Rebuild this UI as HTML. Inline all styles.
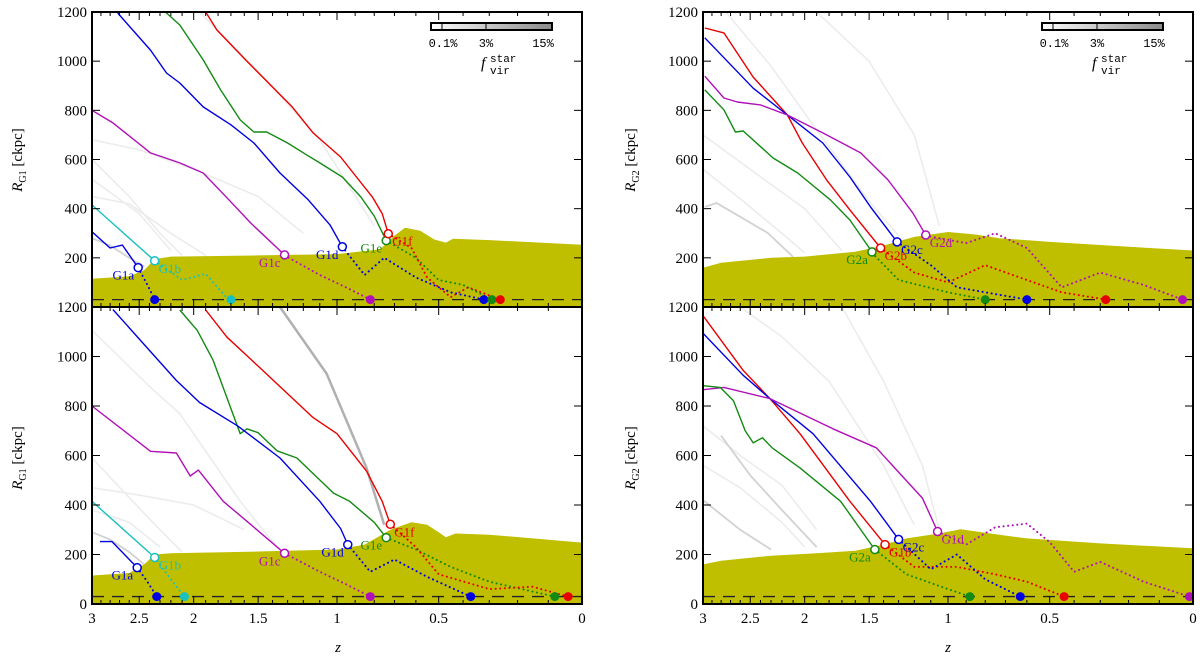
<!DOCTYPE html>
<html><head><meta charset="utf-8"><title>R_G1 and R_G2 vs redshift z</title>
<style>
html,body{margin:0;padding:0;background:#fff;}
svg{display:block;font-family:"Liberation Serif","DejaVu Serif",serif;}
</style></head>
<body>
<svg id="chart" width="1200" height="661" viewBox="0 0 1200 661" xmlns="http://www.w3.org/2000/svg">
<defs>
<linearGradient id="cbgrad" x1="0" x2="1" y1="0" y2="0"><stop offset="0" stop-color="#ffffff"/><stop offset="1" stop-color="#8a8a8a"/></linearGradient>
</defs>
<g id="root"></g>
<text x="22" y="160" font-size="15" text-anchor="middle" transform="rotate(-90 22 160)"><tspan font-style="italic">R</tspan><tspan font-size="10" dy="4">G1</tspan><tspan dy="-4"> [ckpc]</tspan></text>
<text x="22" y="458" font-size="15" text-anchor="middle" transform="rotate(-90 22 458)"><tspan font-style="italic">R</tspan><tspan font-size="10" dy="4">G1</tspan><tspan dy="-4"> [ckpc]</tspan></text>
<text x="635" y="160" font-size="15" text-anchor="middle" transform="rotate(-90 635 160)"><tspan font-style="italic">R</tspan><tspan font-size="10" dy="4">G2</tspan><tspan dy="-4"> [ckpc]</tspan></text>
<text x="635" y="458" font-size="15" text-anchor="middle" transform="rotate(-90 635 458)"><tspan font-style="italic">R</tspan><tspan font-size="10" dy="4">G2</tspan><tspan dy="-4"> [ckpc]</tspan></text>
<text x="338" y="652" font-size="15" font-style="italic" text-anchor="middle">z</text>
<text x="948" y="652" font-size="15" font-style="italic" text-anchor="middle">z</text>
</svg>
<script>
// ---------- data ----------
const yTicks = [0,200,400,600,800,1000,1200];
const xMajor = [3,2.5,2,1.5,1,0.5,0];
const xMajorLabels = ["3","2.5","2","1.5","1","0.5","0"];
const floorR = 30;

// top-left (G1)
const tlOlive = [[3,115],[2.6,125],[2.45,150],[2.35,195],[2.2,205],[1.5,210],[1.0,215],[0.77,235],[0.70,290],[0.65,322],[0.58,310],[0.52,275],[0.47,262],[0.44,278],[0.3,272],[0,253]];
const tlRed = [[1.90,1200],[1.81,1127],[1.59,1005],[1.27,814],[1.14,708],[0.98,610],[0.81,448],[0.76,380],[0.73,298]];
const tlGreen = [[2.25,1200],[2.12,1147],[1.92,1005],[1.78,883],[1.63,761],[1.53,712],[1.44,712],[1.30,667],[1.18,619],[1.10,586],[0.97,529],[0.87,448],[0.80,370],[0.74,270]];
const tlBlue = [[2.72,1196],[2.39,1045],[2.24,952],[2.12,911],[1.92,814],[1.70,741],[1.53,667],[1.35,545],[1.17,436],[1.04,334],[0.97,245]];
const tlMagenta = [[3,800],[2.77,749],[2.39,627],[2.12,586],[1.92,545],[1.73,444],[1.55,340],[1.32,212]];
const tlCyan = [[3,415],[2.35,188]];
const tlBlueA = [[3,306],[2.80,240],[2.67,252],[2.51,160]];
const tlGrey = [[[3,600],[2.6,450],[2.3,300],[2.1,210]],[[3,520],[2.5,380],[2.2,230]],[[3,680],[2.5,640],[2,560],[1.5,450],[1.2,300]],[[1.95,1200],[1.5,960],[1.1,680],[0.8,330]],[[3,450],[2.6,420],[2.2,300],[1.9,210]]];
const tlGreyDark = [[[3,280],[2.8,250],[2.6,200],[2.45,165]]];
const tlDots = [["blue",[[2.51,160],[2.42,90],[2.35,30]]],["cyan",[[2.35,188],[2.1,110],[1.9,135],[1.72,30]]],["magenta",[[1.32,210],[1.1,130],[0.95,80],[0.82,30]]],["blue",[[0.97,245],[0.85,130],[0.75,200],[0.6,120],[0.45,60],[0.32,30]]],["green",[[0.74,270],[0.6,200],[0.5,110],[0.4,90],[0.29,30]]],["red",[[0.73,298],[0.62,240],[0.55,120],[0.45,40],[0.38,80],[0.26,30]]]];
const tlEnds = [["blue",2.35],["cyan",1.70],["magenta",0.82],["blue",0.32],["green",0.29],["red",0.26]];
const tlLabels = [["G1a","blue",2.51,160,-1],["G1b","cyan",2.35,188,1],["G1c","magenta",1.32,212,-1],["G1d","blue",0.97,245,-1],["G1e","green",0.74,270,-1],["G1f","red",0.73,298,1]];

// top-right (G2)
const trOlive = [[3,160],[2.8,180],[2.3,200],[2.0,205],[1.6,225],[1.4,250],[1.2,285],[1.0,305],[0.85,295],[0.73,280],[0.5,265],[0.2,245],[0,230]];
const trRed = [[2.98,1135],[2.77,1115],[2.47,935],[2.15,781],[2.02,667],[1.82,517],[1.64,395],[1.42,240]];
const trBlue = [[2.98,1095],[2.47,890],[2.15,781],[1.85,667],[1.64,529],[1.49,407],[1.31,265]];
const trMagenta = [[2.98,939],[2.77,850],[2.63,834],[2.40,822],[2.15,781],[1.85,708],[1.56,627],[1.37,517],[1.21,383],[1.13,293]];
const trGreen = [[2.98,883],[2.77,802],[2.65,712],[2.57,716],[2.28,606],[2.06,545],[1.79,436],[1.64,354],[1.48,224]];
const trGrey = [[[2.75,1200],[2.3,980],[1.9,720],[1.5,430],[1.3,290]],[[1.9,1200],[1.5,1000],[1.2,700],[1.05,330]],[[3,700],[2.5,560],[2,400],[1.7,230]],[[3,560],[2.6,440],[2.2,300],[2.0,220]]];
const trGreyDark = [[[2.98,407],[2.85,423],[2.67,383],[2.33,301],[2.10,204]]];
const trDots = [["green",[[1.48,220],[1.3,110],[1.0,60],[0.8,30]]],["red",[[1.42,240],[1.2,140],[1.0,100],[0.8,170],[0.6,110],[0.45,60],[0.28,30]]],["blue",[[1.31,265],[1.1,170],[0.95,80],[0.8,60],[0.6,30]]],["magenta",[[1.13,290],[0.9,260],[0.75,300],[0.6,240],[0.45,80],[0.3,140],[0.15,90],[0.03,30]]]];
const trEnds = [["green",0.80],["blue",0.60],["red",0.28],["magenta",0.03]];
const trLabels = [["G2a","green",1.48,224,-1],["G2b","red",1.42,240,1],["G2c","blue",1.31,265,1],["G2d","magenta",1.13,293,1]];

// bottom-left (G1)
const blOlive = [[3,115],[2.6,125],[2.45,160],[2.35,200],[2.2,205],[1.5,212],[1.0,220],[0.85,240],[0.72,300],[0.62,330],[0.55,320],[0.5,290],[0.47,270],[0.43,285],[0.3,280],[0,248]];
const blRed = [[1.90,1188],[1.73,1078],[1.49,956],[1.14,753],[1.00,688],[0.84,537],[0.76,415],[0.72,322]];
const blGreen = [[2.12,1188],[1.97,1106],[1.84,985],[1.63,688],[1.58,708],[1.50,692],[1.37,619],[1.24,590],[1.02,448],[0.93,415],[0.80,330],[0.74,268]];
const blBlue = [[2.77,1190],[2.15,903],[1.95,814],[1.65,720],[1.35,590],[1.10,415],[0.98,305],[0.94,240]];
const blMagenta = [[3,800],[2.39,617],[2.15,610],[2.03,517],[1.96,541],[1.76,415],[1.55,320],[1.32,205]];
const blCyan = [[3,415],[2.35,188]];
const blBlueA = [[2.91,252],[2.78,252],[2.52,147]];
const blGrey = [[[3,1106],[2.39,875],[2.12,769],[1.63,415],[1.4,250]],[[3,590],[2.6,430],[2.3,300],[2.1,210]],[[3,470],[2.5,440],[2,400],[1.6,300]],[[3,380],[2.6,330],[2.3,230]]];
const blGreyDark = [[[3,290],[2.8,260],[2.6,210],[2.45,160]]];
const blGreyThick = [[1.35,1200],[1.06,931],[0.84,550],[0.75,320]];
const blDots = [["blue",[[2.52,147],[2.42,90],[2.33,30]]],["cyan",[[2.35,188],[2.2,100],[2.08,30]]],["magenta",[[1.32,205],[1.1,130],[0.95,80],[0.82,30]]],["blue",[[0.94,240],[0.82,130],[0.7,180],[0.55,110],[0.37,30]]],["green",[[0.74,268],[0.6,220],[0.45,150],[0.3,90],[0.08,30]]],["red",[[0.72,322],[0.6,230],[0.5,120],[0.3,60],[0.15,70],[0.04,30]]]];
const blEnds = [["blue",2.33],["cyan",2.08],["magenta",0.82],["blue",0.37],["green",0.08],["red",0.04]];
const blLabels = [["G1a","blue",2.52,147,-1],["G1b","cyan",2.35,188,1],["G1c","magenta",1.32,205,-1],["G1d","blue",0.94,240,-1],["G1e","green",0.74,268,-1],["G1f","red",0.72,322,1]];

// bottom-right (G2)
const brOlive = [[3,160],[2.8,175],[2.3,195],[1.9,205],[1.6,215],[1.4,240],[1.25,265],[1.05,285],[0.93,302],[0.73,280],[0.6,265],[0.3,245],[0,225]];
const brRed = [[3,1165],[2.57,944],[2.31,830],[2.04,688],[1.64,415],[1.39,240]];
const brBlue = [[3,1094],[2.57,924],[2.31,830],[1.93,688],[1.49,415],[1.30,261]];
const brMagenta = [[3,866],[2.77,875],[2.31,830],[1.77,708],[1.45,631],[1.15,428],[1.06,293]];
const brGreen = [[3,882],[2.81,875],[2.67,822],[2.55,700],[2.47,651],[2.38,672],[2.29,631],[2.04,550],[1.71,415],[1.46,220]];
const brGrey = [[[2.6,1200],[2.2,1080],[1.8,900],[1.4,560],[1.2,320]],[[3,720],[2.6,600],[2.2,480],[1.9,300]],[[3,560],[2.6,470],[2.2,330],[2.0,230]],[[1.7,1200],[1.4,900],[1.15,560],[1.05,300]]];
const brGreyDark = [[[2.8,680],[2.5,520],[2.2,380],[1.9,230]],[[3,420],[2.6,300],[2.3,220]]];
const brDots = [["green",[[1.46,220],[1.25,120],[1.0,60],[0.88,30]]],["red",[[1.39,240],[1.2,150],[0.95,150],[0.75,120],[0.6,90],[0.44,30]]],["blue",[[1.30,261],[1.1,140],[0.95,200],[0.8,100],[0.63,30]]],["magenta",[[1.06,293],[0.9,240],[0.75,310],[0.6,325],[0.5,250],[0.4,130],[0.3,170],[0.15,90],[0.01,30]]]];
const brEnds = [["green",0.88],["blue",0.63],["red",0.44],["magenta",0.01]];
const brLabels = [["G2a","green",1.46,220,-1],["G1b","red",1.39,240,1],["G2c","blue",1.30,261,1],["G1d","magenta",1.06,293,1]];

// ---------- rendering ----------
const COL = {red:"#e80000",green:"#138a13",blue:"#0000e0",magenta:"#b010b8",cyan:"#18c0c0"};
const NS = "http://www.w3.org/2000/svg";
const root = document.getElementById('root');
const W = 490, L4 = Math.log10(4);
function mk(tag, attrs, parent){ const e=document.createElementNS(NS,tag); for(const k in attrs) e.setAttribute(k,attrs[k]); (parent||root).appendChild(e); return e; }

function panel(id, x0, ytop, h, d){
  const sx = z => x0 + (L4 - Math.log10(1+z))/L4*W;
  const sy = r => ytop + (1200 - r)/1200*h;
  const pts = arr => arr.map(p => sx(p[0]).toFixed(1)+','+sy(p[1]).toFixed(1)).join(' ');
  const g = mk('g',{});
  
  
  const cp = mk('clipPath',{id:'clip-'+id}, g);
  mk('rect',{x:x0,y:ytop,width:W,height:h},cp);
  const inner = mk('g',{'clip-path':'url(#clip-'+id+')'}, g);
  const ol = d.olive;
  const oliveEl = mk('polygon',{points: pts(ol)+' '+sx(0)+','+sy(-50)+' '+sx(3)+','+sy(-50), fill:'#bfbf00'}, inner);
  
  
  d.grey.forEach(a => { const e=mk('polyline',{points:pts(a),fill:'none',stroke:'#ececec','stroke-width':1.6}, inner);
      });
  d.greyDark.forEach(a => { const e=mk('polyline',{points:pts(a),fill:'none',stroke:'#d2d2d2','stroke-width':1.8}, inner);
      });
  if(d.greyThick){ const e=mk('polyline',{points:pts(d.greyThick),fill:'none',stroke:'#b0b0b0','stroke-width':2.5}, inner);
      }
  d.dots.forEach(([c,a]) => { const e=mk('polyline',{points:pts(a),fill:'none',stroke:COL[c],'stroke-width':2,'stroke-dasharray':'0.1 4.5','stroke-linecap':'round'}, inner);
      });
  const fl = mk('line',{x1:x0,x2:x0+W,y1:sy(floorR),y2:sy(floorR),stroke:'#222','stroke-width':1.3,'stroke-dasharray':'12 8'}, inner);
   
  d.lines.forEach(([c,a]) => { const e=mk('polyline',{points:pts(a),fill:'none',stroke:COL[c],'stroke-width':1.4,'stroke-linejoin':'round'}, inner);
      });
  d.ends.forEach(([c,z]) => { const e=mk('circle',{cx:sx(z),cy:sy(floorR),r:4.5,fill:COL[c]}, inner);
      });
  d.labels.forEach(([t,c,z,r,side]) => {
    const cx=sx(z), cy=sy(r);
    const e=mk('circle',{cx:cx,cy:cy,r:4,fill:'#fff',stroke:COL[c],'stroke-width':1.5}, inner);
     
    const tx=mk('text',{x: side<0? cx-4: cx+4, y: cy+12, 'font-size':13, fill:COL[c], 'text-anchor': side<0?'end':'start'}, g);
    tx.textContent=t;
     
  });
  const fr = mk('rect',{x:x0,y:ytop,width:W,height:h,fill:'none',stroke:'#000','stroke-width':2}, g);
   
  for(let i=0;i<=30;i++){ const z=i/10; const major = (i%5===0); const len= major?8:4; const x=sx(z);
    mk('line',{x1:x,x2:x,y1:ytop,y2:ytop+len,stroke:'#000','stroke-width':1}, g);
    mk('line',{x1:x,x2:x,y1:ytop+h,y2:ytop+h-len,stroke:'#000','stroke-width':1}, g); }
  yTicks.forEach(v => { const y=sy(v);
    mk('line',{x1:x0,x2:x0+8,y1:y,y2:y,stroke:'#000','stroke-width':1}, g);
    mk('line',{x1:x0+W,x2:x0+W-8,y1:y,y2:y,stroke:'#000','stroke-width':1}, g);
    if(d.showZero || v>0){ const t=mk('text',{x:x0-5,y:y+5,'font-size':15,'text-anchor':'end'}, g); t.textContent=String(v);
        }
  });
  if(d.xLabels){ xMajor.forEach((z,i) => { const t=mk('text',{x:sx(z),y:ytop+h+19,'font-size':15,'text-anchor':'middle'}, g); t.textContent=xMajorLabels[i];
      }); }
  if(d.colorbar){
    const cb = mk('g',{}, g);
     
    const bx=x0+339, by=ytop+11, bw=121;
    mk('rect',{x:bx,y:by,width:bw,height:7,fill:'url(#cbgrad)',stroke:'#000','stroke-width':2}, cb);
    mk('line',{x1:bx+11,x2:bx+11,y1:by,y2:by+7,stroke:'#000','stroke-width':1}, cb);
    mk('line',{x1:bx+55,x2:bx+55,y1:by,y2:by+7,stroke:'#000','stroke-width':1}, cb);
    [["0.1%",bx+12],["3%",bx+55],["15%",bx+112]].forEach(([s,x])=>{ const t=mk('text',{x:x,y:by+24,'font-size':12,'text-anchor':'middle','font-family':'"Liberation Mono",monospace'}, cb); t.textContent=s; });
    const f=mk('text',{x:bx+50,y:by+45,'font-size':16,'font-style':'italic'}, cb); f.textContent='f';
    const s1=mk('text',{x:bx+59,y:by+39,'font-size':11,'font-family':'"Liberation Mono",monospace'}, cb); s1.textContent='star';
    const s2=mk('text',{x:bx+59,y:by+51,'font-size':11,'font-family':'"Liberation Mono",monospace'}, cb); s2.textContent='vir';
  }
}

panel('top-left', 92, 12, 295, {olive:tlOlive, grey:tlGrey, greyDark:tlGreyDark, dots:tlDots, ends:tlEnds, labels:tlLabels,
  lines:[["red",tlRed],["green",tlGreen],["blue",tlBlue],["magenta",tlMagenta],["cyan",tlCyan],["blue",tlBlueA]], colorbar:true});
panel('top-right', 703, 12, 295, {olive:trOlive, grey:trGrey, greyDark:trGreyDark, dots:trDots, ends:trEnds, labels:trLabels,
  lines:[["red",trRed],["blue",trBlue],["magenta",trMagenta],["green",trGreen]], colorbar:true});
panel('bottom-left', 92, 307, 297, {olive:blOlive, grey:blGrey, greyDark:blGreyDark, greyThick:blGreyThick, dots:blDots, ends:blEnds, labels:blLabels,
  lines:[["red",blRed],["green",blGreen],["blue",blBlue],["magenta",blMagenta],["cyan",blCyan],["blue",blBlueA]], showZero:true, xLabels:true});
panel('bottom-right', 703, 307, 297, {olive:brOlive, grey:brGrey, greyDark:brGreyDark, dots:brDots, ends:brEnds, labels:brLabels,
  lines:[["red",brRed],["blue",brBlue],["magenta",brMagenta],["green",brGreen]], showZero:true, xLabels:true});
</script>
</body></html>
